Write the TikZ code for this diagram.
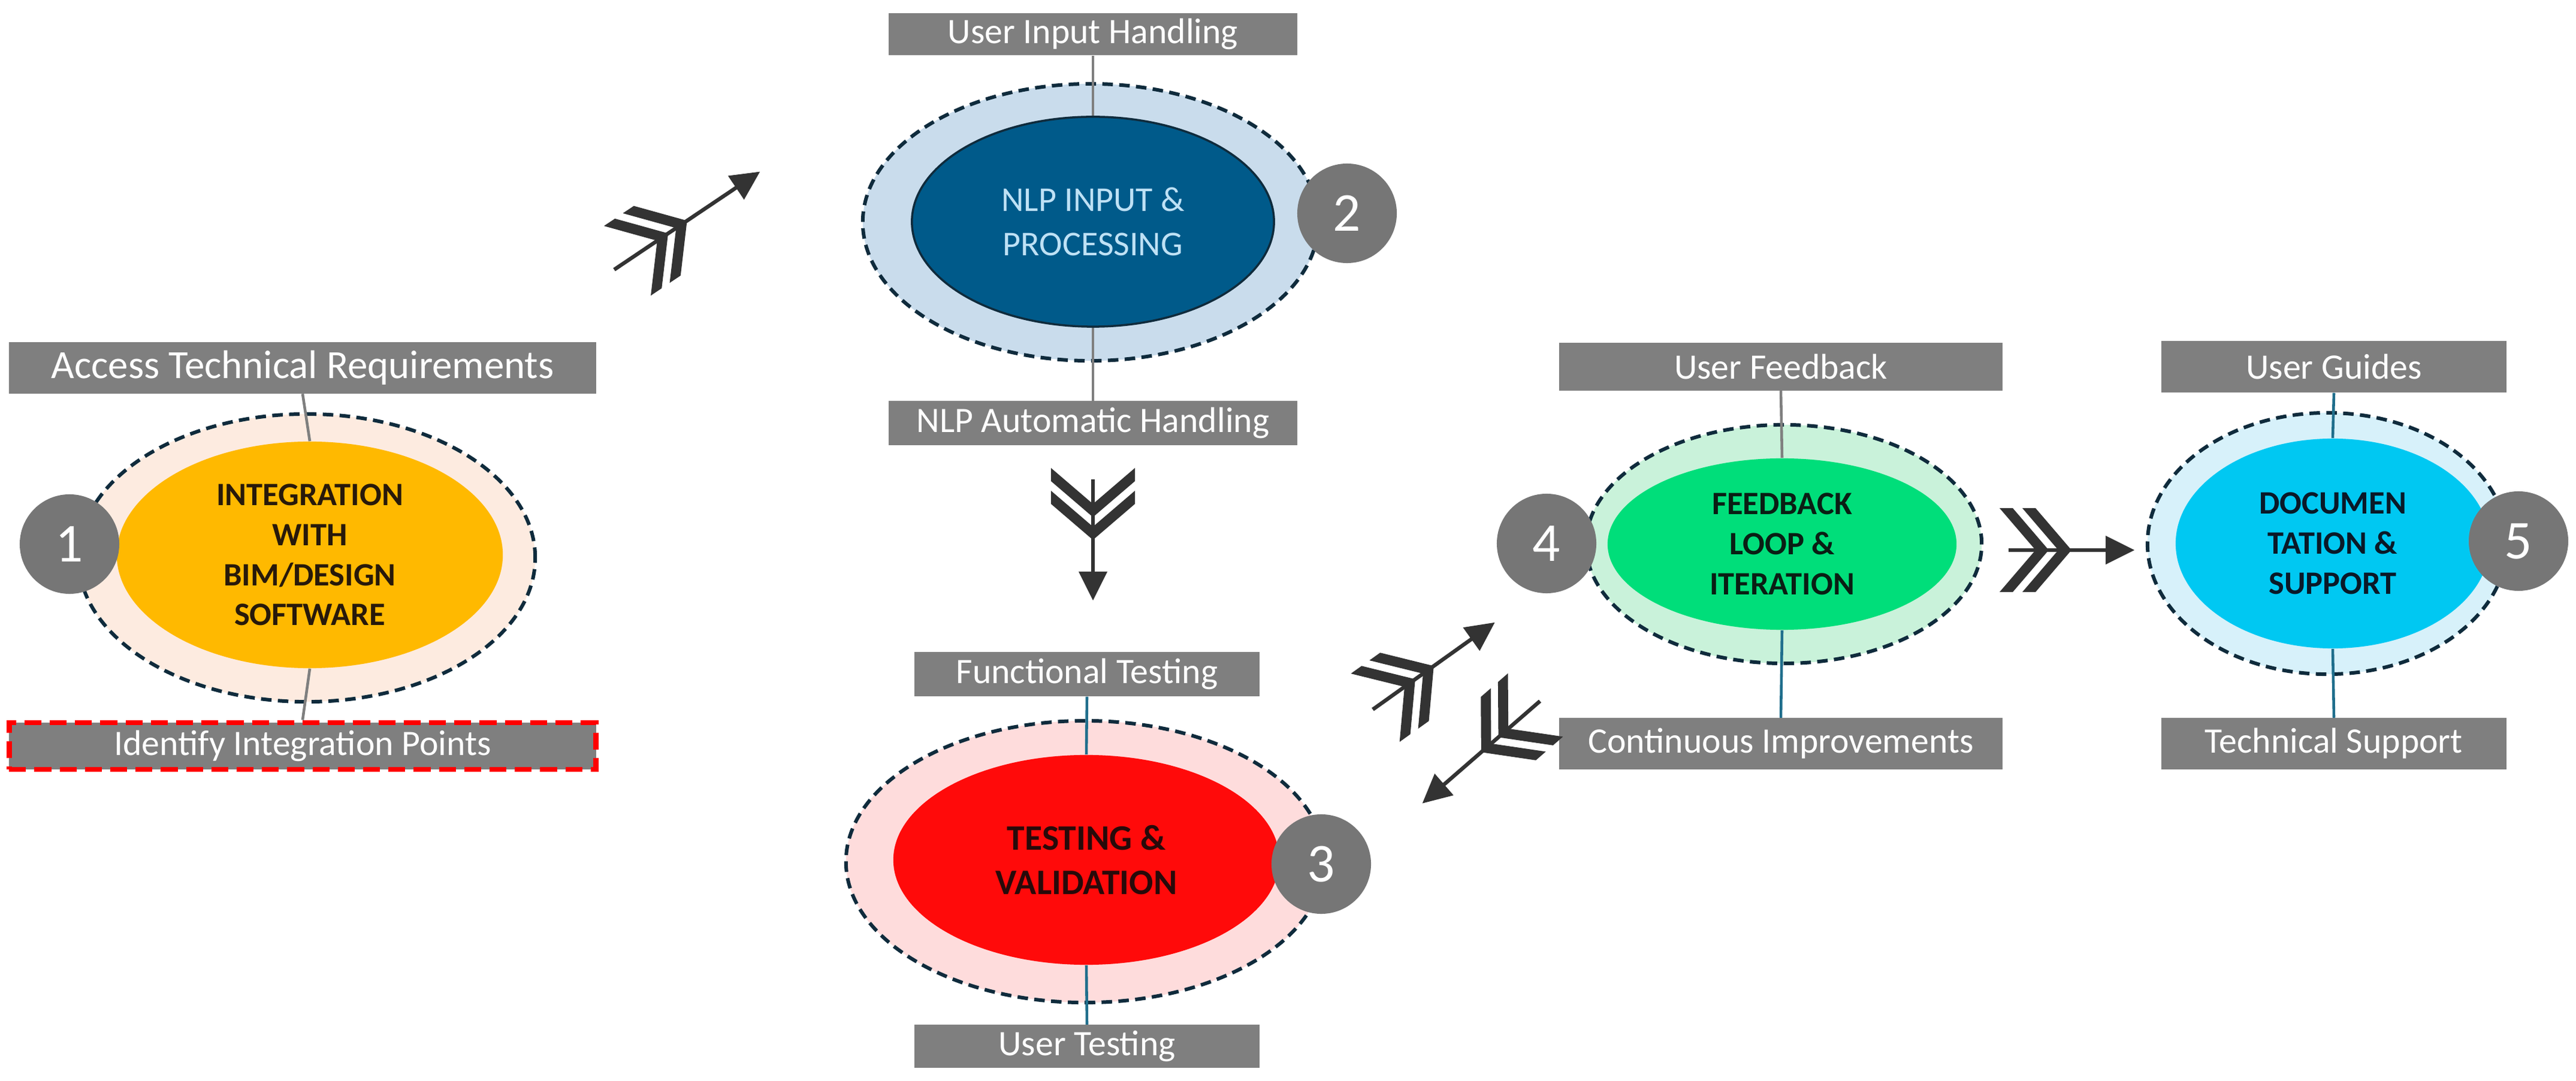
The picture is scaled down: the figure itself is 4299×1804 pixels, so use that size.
\documentclass[tikz,border=0pt]{standalone}
\usepackage{fontspec}
\setmainfont{Carlito}
\usetikzlibrary{shapes.geometric}
\definecolor{boxg}{HTML}{7F7F7F}
\definecolor{numg}{HTML}{767676}
\definecolor{navy}{HTML}{0F2B3C}
\definecolor{teal}{HTML}{1F6E8C}
\definecolor{arr}{HTML}{333333}
\tikzset{
  lab/.style={fill=boxg,text=white,minimum height=#1,inner sep=0pt,font=\fontsize{17}{20}\selectfont},
  outer/.style={ellipse,draw=navy,line width=1.7pt,dash pattern=on 5pt off 3pt,inner sep=0pt},
  inner/.style={ellipse,inner sep=0pt,align=center,font=\fontsize{15.5}{19}\selectfont\bfseries},
  num/.style={circle,fill=numg,text=white,minimum size=1.66cm,inner sep=0pt,font=\fontsize{26}{26}\selectfont},
  con/.style={line width=1.3pt,draw=#1},
  pics/fl/.style={code={
    \fill[arr] (0.5*#1-38-60,-70) -- (0.5*#1-38,0) -- (0.5*#1-38-60,70) -- (0.5*#1-38-82,70) -- (0.5*#1-38-22,0) -- (0.5*#1-38-82,-70) -- cycle;
    \fill[arr] (0.5*#1-60,-70) -- (0.5*#1,0) -- (0.5*#1-60,70) -- (0.5*#1-82,70) -- (0.5*#1-22,0) -- (0.5*#1-82,-70) -- cycle;
    \draw[arr,line width=1.8pt] (0,0) -- (#1-40,0);
    \fill[arr] (#1,0) -- (#1-48,24) -- (#1-48,-24) -- cycle;
  }}
}
\begin{document}
\begin{tikzpicture}[x=0.01cm,y=-0.01cm]
\useasboundingbox (0,0) rectangle (4299,1804);
% ---- stage 1
\node[outer,fill={rgb,255:red,253;green,235;blue,224},minimum width=7.62cm,minimum height=4.80cm] (o1) at (512,931) {};
\node[inner,fill={rgb,255:red,255;green,185;blue,0},text={rgb,255:red,40;green,25;blue,10},minimum width=6.44cm,minimum height=3.78cm] (i1) at (517,926) {INTEGRATION\\WITH\\BIM/DESIGN\\SOFTWARE};
\node[num] (n1) at (116,908) {1};
\node[lab=0.85cm,minimum width=9.79cm,font=\fontsize{19}{22}\selectfont] (t1) at (505,614) {Access Technical Requirements};
\node[lab=0.78cm,minimum width=9.79cm,draw=red,line width=2.5pt,dash pattern=on 8pt off 4pt] (b1) at (505,1245) {Identify Integration Points};
\draw[con=boxg] (t1.south) -- (i1.north);
\draw[con=boxg] (i1.south) -- (b1.north);
% ---- stage 2
\node[outer,fill={rgb,255:red,201;green,220;blue,236},minimum width=7.60cm,minimum height=4.62cm] (o2) at (1820,371) {};
\node[inner,draw=navy,line width=1pt,fill={rgb,255:red,0;green,90;blue,138},text={rgb,255:red,190;green,225;blue,245},font=\fontsize{16.5}{21}\selectfont,minimum width=6.04cm,minimum height=3.50cm] (i2) at (1824,370) {NLP INPUT \&\\PROCESSING};
\node[num] (n2) at (2248,356) {2};
\node[lab=0.70cm,minimum width=6.82cm] (t2) at (1824,57) {User Input Handling};
\node[lab=0.73cm,minimum width=6.82cm] (b2) at (1824,706) {NLP Automatic Handling};
\draw[con=boxg] (t2.south) -- (i2.north);
\draw[con=boxg] (i2.south) -- (b2.north);
% ---- stage 3
\node[outer,fill={rgb,255:red,254;green,220;blue,220},minimum width=7.98cm,minimum height=4.70cm] (o3) at (1811,1438) {};
\node[inner,fill={rgb,255:red,255;green,10;blue,10},text={rgb,255:red,40;green,10;blue,10},minimum width=6.44cm,minimum height=3.50cm,font=\fontsize{17}{21}\selectfont\bfseries] (i3) at (1813,1435) {TESTING \&\\VALIDATION};
\node[num] (n3) at (2205,1442) {3};
\node[lab=0.74cm,minimum width=5.76cm] (t3) at (1814,1125) {Functional Testing};
\node[lab=0.71cm,minimum width=5.76cm] (b3) at (1814,1746) {User Testing};
\draw[con=teal] (t3.south) -- (i3.north);
\draw[con=teal] (i3.south) -- (b3.north);
% ---- stage 4
\node[outer,fill={rgb,255:red,201;green,242;blue,218},minimum width=6.60cm,minimum height=3.98cm] (o4) at (2977,908) {};
\node[inner,fill={rgb,255:red,0;green,222;blue,122},text={rgb,255:red,10;green,30;blue,20},minimum width=5.82cm,minimum height=2.86cm] (i4) at (2974,908) {FEEDBACK\\LOOP \&\\ITERATION};
\node[num] (n4) at (2581,907) {4};
\node[lab=0.79cm,minimum width=7.40cm] (t4) at (2972,612) {User Feedback};
\node[lab=0.85cm,minimum width=7.40cm] (b4) at (2972,1241) {Continuous Improvements};
\draw[con=boxg] (t4.south) -- (i4.north);
\draw[con=teal] (i4.south) -- (b4.north);
% ---- stage 5
\node[outer,fill={rgb,255:red,215;green,241;blue,250},minimum width=6.00cm,minimum height=4.36cm] (o5) at (3884,907) {};
\node[inner,fill={rgb,255:red,0;green,200;blue,242},text={rgb,255:red,10;green,25;blue,40},minimum width=5.24cm,minimum height=3.50cm] (i5) at (3893,907) {DOCUMEN\\TATION \&\\SUPPORT};
\node[num] (n5) at (4203,903) {5};
\node[lab=0.86cm,minimum width=5.76cm] (t5) at (3895,612) {User Guides};
\node[lab=0.85cm,minimum width=5.76cm] (b5) at (3895,1241) {Technical Support};
\draw[con=teal] (t5.south) -- (i5.north);
\draw[con=teal] (i5.south) -- (b5.north);
% ---- arrows
\pic[rotate=33.9] at (1025,450) {fl=293};
\pic[rotate=-90] at (1824,800) {fl=202};
\pic[rotate=35.5] at (2291,1184) {fl=250};
\pic[rotate=221] at (2570,1170) {fl=260};
\pic at (3352,918) {fl=210};
\end{tikzpicture}
\end{document}
